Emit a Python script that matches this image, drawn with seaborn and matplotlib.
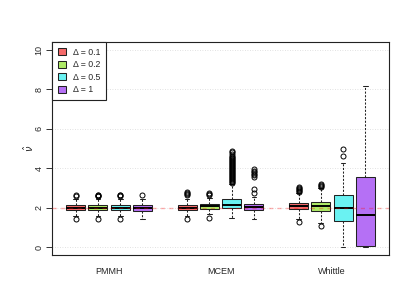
import matplotlib
matplotlib.use("Agg")
import matplotlib.pyplot as plt
import pandas as pd
import seaborn as sns

sns.set_theme(style="white")
plt.rcParams['font.family'] = ['Liberation Sans', 'DejaVu Sans']
plt.rcParams['mathtext.fontset'] = 'dejavusans'

methods = ['PMMH', 'MCEM', 'Whittle']
deltas = ['\u0394 = 0.1', '\u0394 = 0.2', '\u0394 = 0.5', '\u0394 = 1']
colors = ['#F56A6A', '#AEEA66', '#6AF2F2', '#B570F5']

# box summaries: whisker low, q1, median, q3, whisker high
pmmh_stats = [[1.58, 1.86, 2.00, 2.14, 2.45],
              [1.58, 1.86, 2.00, 2.14, 2.45],
              [1.60, 1.86, 2.00, 2.14, 2.44],
              [1.42, 1.84, 2.00, 2.16, 2.45]]
mcem_stats = [[1.58, 1.87, 2.00, 2.16, 2.46],
              [1.70, 1.94, 2.06, 2.21, 2.50],
              [1.50, 1.96, 2.16, 2.46, 3.18],
              [1.42, 1.86, 2.03, 2.18, 2.55]]
whittle_stats = [[1.42, 1.91, 2.07, 2.24, 2.72],
                 [1.21, 1.84, 2.06, 2.31, 3.00],
                 [0.02, 1.33, 1.96, 2.62, 4.25],
                 [0.02, 0.07, 1.62, 3.56, 8.15]]

pmmh_out = [[1.43, 2.60, 2.63],
            [1.42, 2.58, 2.61, 2.64, 2.66],
            [1.42, 2.58, 2.62, 2.65],
            [2.66]]
mcem_out = [[1.42, 2.62, 2.68, 2.75, 2.80],
            [1.48, 2.64, 2.70, 2.75],
            [3.25, 3.30, 3.35, 3.40, 3.45, 3.50, 3.55, 3.60, 3.65, 3.70,
             3.75, 3.80, 3.85, 3.90, 3.95, 4.00, 4.05, 4.10, 4.15, 4.20,
             4.25, 4.30, 4.35, 4.40, 4.45, 4.50, 4.55, 4.60, 4.70, 4.80, 4.88],
            [2.75, 2.95, 3.58, 3.65, 3.72, 3.80, 3.88, 3.95]]
whittle_out = [[1.27, 2.80, 2.85, 2.90, 2.95, 3.00, 3.05],
               [1.06, 3.05, 3.10, 3.15, 3.20],
               [4.62, 4.95],
               []]

true_nu = 2.0

# expand the summaries into samples that reproduce them
rows = []
for m, stats, outs in zip(methods, [pmmh_stats, mcem_stats, whittle_stats],
                          [pmmh_out, mcem_out, whittle_out]):
    for d, (lo, q1, med, q3, hi), o in zip(deltas, stats, outs):
        vals = [lo] + [q1] * 40 + [med] * 40 + [q3] * 40 + [hi] + o
        rows += [{'method': m, 'delta': d, 'value': v} for v in vals]
df = pd.DataFrame(rows)

fig, ax = plt.subplots(figsize=(4.11, 3.08), dpi=100)
fig.subplots_adjust(left=52/411, right=389/411, bottom=1-255/308, top=1-42/308)

ax.yaxis.grid(True, color='#D8D8D8', linestyle=(0, (1, 2)), linewidth=0.6)
ax.set_axisbelow(True)

sns.boxplot(data=df, x='method', y='value', hue='delta', order=methods,
            hue_order=deltas, palette=colors, width=0.8, gap=0.15,
            linecolor='#222222', linewidth=0.75, saturation=1,
            whiskerprops=dict(linestyle=(0, (2, 1.5))),
            medianprops=dict(linewidth=1.4, color='black'),
            flierprops=dict(marker='o', markerfacecolor='none',
                            markeredgecolor='black', markersize=3.6,
                            markeredgewidth=0.7),
            ax=ax)

# R-style staples: half the box width
for c in ax.containers:
    for cap in getattr(c, 'caps', []):
        x0, x1 = cap.get_xdata()
        mid, half = (x0 + x1) / 2, (x1 - x0) / 4
        cap.set_xdata([mid - half, mid + half])

ax.axhline(true_nu, color='red', alpha=0.3, linestyle=(0, (3, 3)), linewidth=1, zorder=5)

ax.set_xlim(-0.512, 2.512)
ax.set_ylim(-0.4, 10.4)
ax.set_yticks([0, 2, 4, 6, 8, 10])
ax.tick_params(axis='y', length=4, width=0.7, color='#333333', labelsize=6.5,
               pad=2, left=True, labelrotation=90)
for t in ax.get_yticklabels():
    t.set_va('center')
ax.tick_params(axis='x', length=0, labelsize=6.5, pad=9)
ax.set_xlabel('')
ax.set_ylabel(r'$\hat{\nu}$', fontsize=7, labelpad=-1)

for s in ax.spines.values():
    s.set_visible(True)
    s.set_color('#222222')
    s.set_linewidth(0.8)

ax.legend(loc='upper left', fontsize=6.3, frameon=True, fancybox=False,
          edgecolor='#222222', framealpha=1, borderaxespad=0,
          handlelength=0.9, handleheight=0.9, handletextpad=0.8,
          labelspacing=0.4, borderpad=0.65, title=None)
ax.get_legend().get_frame().set_linewidth(0.8)

plt.savefig('out.png', dpi=100)
